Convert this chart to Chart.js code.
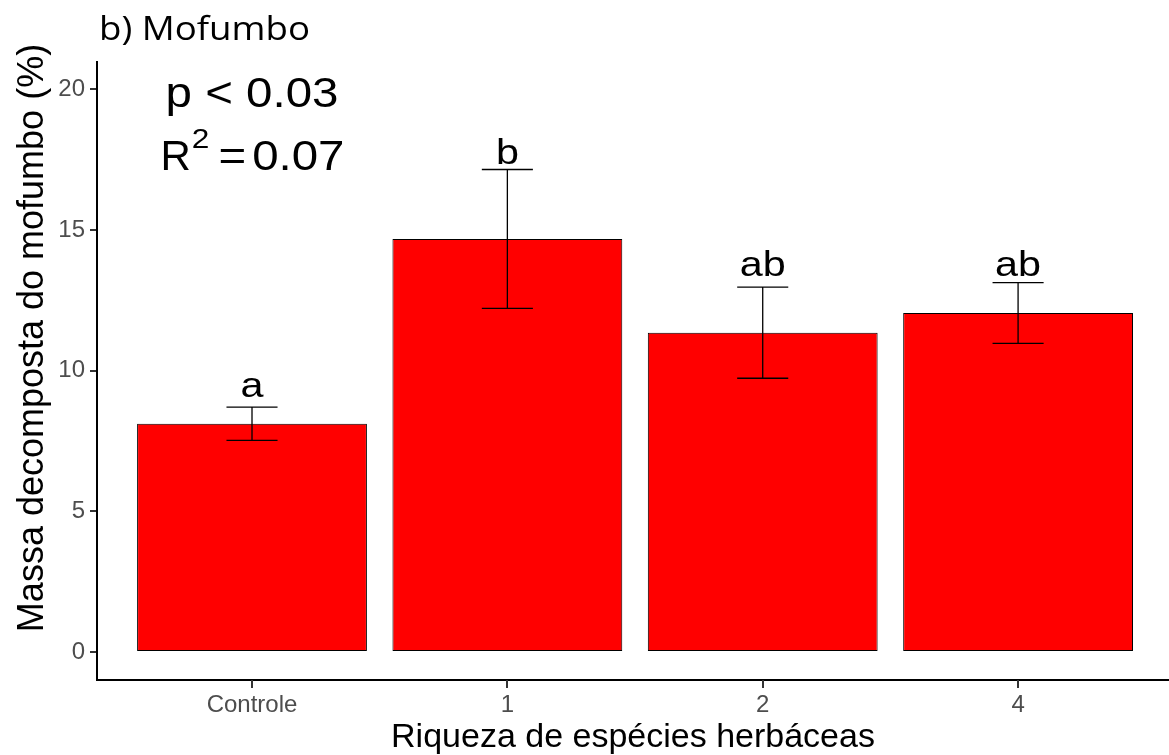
<!DOCTYPE html>
<html>
<head>
<meta charset="utf-8">
<title>b) Mofumbo</title>
<script src="https://cdn.jsdelivr.net/npm/chart.js@4.4.1/dist/chart.umd.min.js"></script>
<style>
  html, body { margin: 0; padding: 0; background: #ffffff; }
  #wrap { width: 1169px; height: 755px; }
</style>
</head>
<body>
<div id="wrap"><canvas id="chart" width="1169" height="755"></canvas></div>
<script>
// Treatments and their mean decomposed mass (%) with standard error
const categories = ['Controle', '1', '2', '4'];
const xPositions = [1, 2, 3, 4];
const meanMass = [8.11, 14.68, 11.35, 12.05];
const stdError = [0.59, 2.47, 1.62, 1.08];

// Tukey group letters and the height (in data units) of their baseline
const groupLetters = ['a', 'b', 'ab', 'ab'];
const letterHeights = [9.06, 17.36, 13.37, 13.37];

// Axis ticks
const yTickValues = [0, 5, 10, 15, 20];

// Model statistics shown in the upper-left corner
const pText = 'p < 0.03';
const r2Text = '0.07';

const SANS = '"Liberation Sans", Arial, sans-serif';

function drawStretched(ctx, text, x, baseline, font, sx, align) {
  ctx.save();
  ctx.font = font;
  ctx.textBaseline = 'alphabetic';
  ctx.textAlign = 'left';
  const w = ctx.measureText(text).width * sx;
  const x0 = align === 'center' ? x - w / 2 : x;
  ctx.translate(x0, baseline);
  ctx.scale(sx, 1);
  ctx.fillText(text, 0, 0);
  ctx.restore();
  return w;
}

function textWidth(ctx, text, font, sx) {
  ctx.save();
  ctx.font = font;
  const w = ctx.measureText(text).width * sx;
  ctx.restore();
  return w;
}

// Error bars with horizontal whiskers
const errorBarPlugin = {
  id: 'errorBars',
  afterDatasetsDraw(chart) {
    const ctx = chart.ctx;
    const xs = chart.scales.x, ys = chart.scales.y;
    ctx.save();
    ctx.strokeStyle = '#000000';
    ctx.lineWidth = 1.3;
    xPositions.forEach((xp, i) => {
      const cx = xs.getPixelForValue(xp);
      const xl = xs.getPixelForValue(xp - 0.1);
      const xr = xs.getPixelForValue(xp + 0.1);
      const yt = ys.getPixelForValue(meanMass[i] + stdError[i]);
      const yb = ys.getPixelForValue(meanMass[i] - stdError[i]);
      ctx.beginPath();
      ctx.moveTo(cx, yt); ctx.lineTo(cx, yb);
      ctx.moveTo(xl, yt); ctx.lineTo(xr, yt);
      ctx.moveTo(xl, yb); ctx.lineTo(xr, yb);
      ctx.stroke();
    });
    ctx.restore();
  }
};

// Title, axis titles, group letters, statistics and x tick marks
const textPlugin = {
  id: 'texts',
  afterDraw(chart) {
    const ctx = chart.ctx;
    const xs = chart.scales.x, ys = chart.scales.y;
    const area = chart.chartArea;
    ctx.save();

    // tick marks below the x axis
    ctx.strokeStyle = '#333333';
    ctx.lineWidth = 2;
    xPositions.forEach((xp) => {
      const cx = Math.round(xs.getPixelForValue(xp));
      ctx.beginPath();
      ctx.moveTo(cx, area.bottom);
      ctx.lineTo(cx, area.bottom + 8);
      ctx.stroke();
    });

    ctx.fillStyle = '#000000';

    // panel title
    ctx.font = '32px "Open Sans", "Noto Sans", sans-serif';
    const tw = ctx.measureText('b) Mofumbo').width;
    drawStretched(ctx, 'b) Mofumbo', 99, 39.5, ctx.font, 211 / tw, 'left');

    // group letters above the bars
    const letterFont = '35px ' + SANS;
    xPositions.forEach((xp, i) => {
      drawStretched(ctx, groupLetters[i], xs.getPixelForValue(xp),
        ys.getPixelForValue(letterHeights[i]), letterFont, 1.18, 'center');
    });

    // statistics
    const statX = xs.getPixelForValue(1);
    const bigFont = '42px ' + SANS;
    const supFont = '28px ' + SANS;
    const sx = 1.13;
    drawStretched(ctx, pText, statX, ys.getPixelForValue(19.36), bigFont, sx, 'center');

    const rBase = ys.getPixelForValue(17.12);
    const wR = textWidth(ctx, 'R', bigFont, 1.0);
    const w2 = textWidth(ctx, '2', supFont, sx);
    const wEq = textWidth(ctx, '=', bigFont, sx);
    const wV = textWidth(ctx, r2Text, bigFont, sx);
    const gap1 = 9, gap2 = 6;
    const total = wR + w2 + gap1 + wEq + gap2 + wV;
    let x = statX - total / 2;
    drawStretched(ctx, 'R', x, rBase, bigFont, 1.0, 'left'); x += wR + 1;
    drawStretched(ctx, '2', x, rBase - 22, supFont, sx, 'left'); x += w2 + gap1;
    drawStretched(ctx, '=', x, rBase, bigFont, sx, 'left'); x += wEq + gap2;
    drawStretched(ctx, r2Text, x, rBase, bigFont, sx, 'left');

    // x axis title
    ctx.font = '34px ' + SANS;
    ctx.textAlign = 'center';
    ctx.textBaseline = 'alphabetic';
    ctx.fillText('Riqueza de espécies herbáceas', (area.left + area.right) / 2, 747);

    // y axis title
    ctx.save();
    ctx.translate(43, 338);
    ctx.rotate(-Math.PI / 2);
    ctx.font = '36px ' + SANS;
    ctx.textAlign = 'center';
    ctx.fillText('Massa decomposta do mofumbo (%)', 0, 0);
    ctx.restore();

    ctx.restore();
  }
};

const tickFont = { family: SANS, size: 24 };

new Chart(document.getElementById('chart'), {
  type: 'bar',
  data: {
    datasets: [{
      data: xPositions.map((x, i) => ({ x: x, y: meanMass[i] })),
      backgroundColor: '#FF0000',
      borderColor: '#000000',
      borderWidth: 1,
      borderSkipped: false,
      barPercentage: 0.9,
      categoryPercentage: 1.0
    }]
  },
  options: {
    responsive: false,
    animation: false,
    devicePixelRatio: 1,
    layout: { padding: { top: 62, left: 0, right: 0, bottom: 0 } },
    plugins: { legend: { display: false }, tooltip: { enabled: false }, title: { display: false } },
    scales: {
      x: {
        type: 'linear',
        min: 0.393,
        max: 4.591,
        offset: false,
        grid: { offset: false, drawOnChartArea: false, drawTicks: true, tickLength: 7, color: '#333333', lineWidth: 2 },
        border: { display: true, color: '#000000', width: 2 },
        ticks: {
          font: tickFont,
          color: '#4D4D4D',
          padding: 4,
          maxRotation: 0,
          autoSkip: false,
          callback: (v) => {
            const i = xPositions.indexOf(v);
            return i >= 0 ? categories[i] : '';
          }
        },
        afterBuildTicks: (s) => { s.ticks = xPositions.map(v => ({ value: v })); },
        afterFit: (s) => { s.height = 75; }
      },
      y: {
        type: 'linear',
        min: -0.995,
        max: 20.97,
        grid: { drawOnChartArea: false, drawTicks: true, tickLength: 7, color: '#333333', lineWidth: 2 },
        border: { display: true, color: '#000000', width: 2 },
        ticks: { font: tickFont, color: '#4D4D4D', padding: 5 },
        afterBuildTicks: (s) => { s.ticks = yTickValues.map(v => ({ value: v })); },
        afterFit: (s) => { s.width = 97; }
      }
    }
  },
  plugins: [errorBarPlugin, textPlugin]
});
</script>
</body>
</html>
